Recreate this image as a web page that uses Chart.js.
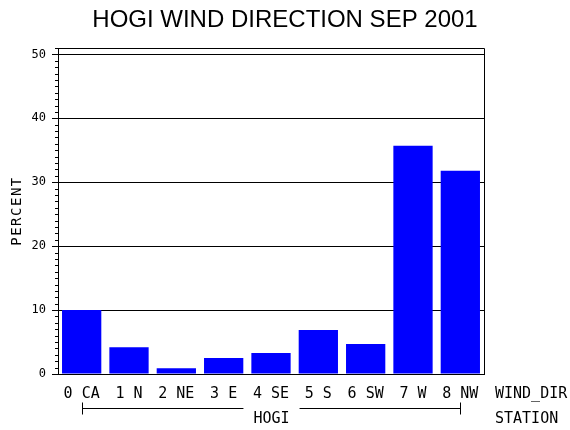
<!DOCTYPE html>
<html>
<head>
<meta charset="utf-8">
<script src="https://cdn.jsdelivr.net/npm/chart.js@4.4.1/dist/chart.umd.min.js"></script>
<style>
  html, body { margin: 0; padding: 0; background: #fff; }
  #wrap { width: 570px; height: 430px; }
</style>
</head>
<body>
<div id="wrap"><canvas id="c" width="570" height="430"></canvas></div>
<script>
// wind direction categories and percent of hours
const windDirs = ['0 CA', '1 N', '2 NE', '3 E', '4 SE', '5 S', '6 SW', '7 W', '8 NW'];
const percents = [10.0, 4.2, 0.9, 2.5, 3.3, 6.9, 4.7, 35.7, 31.8];
const yTicks = [0, 10, 20, 30, 40, 50];
const stationName = 'HOGI';
const titleText = 'HOGI WIND DIRECTION SEP 2001';

const MONO = '"DejaVu Sans Mono", "Liberation Mono", monospace';

// title, frame, minor ticks, group bracket and side labels
const extras = {
  id: 'extras',
  afterDraw(chart) {
    const ctx = chart.ctx;
    const a = chart.chartArea;
    const x = chart.scales.x;
    const y = chart.scales.y;
    ctx.save();
    ctx.strokeStyle = '#000';
    ctx.fillStyle = '#000';
    ctx.lineWidth = 1;

    ctx.font = '24px "Liberation Sans", Arial, sans-serif';
    ctx.textAlign = 'center';
    ctx.textBaseline = 'middle';
    ctx.fillText(titleText, 285, 20);

    // top + right border
    ctx.beginPath();
    ctx.moveTo(Math.round(a.left) + 0.5, Math.round(a.top) + 0.5);
    ctx.lineTo(Math.round(a.right) + 0.5, Math.round(a.top) + 0.5);
    ctx.lineTo(Math.round(a.right) + 0.5, Math.round(a.bottom) + 0.5);
    ctx.stroke();

    // minor ticks every 1 unit
    ctx.beginPath();
    for (let v = 1; v <= y.max; v++) {
      if (v % 10 === 0) continue;
      const py = Math.round(y.getPixelForValue(v)) + 0.5;
      ctx.moveTo(a.left - 3, py);
      ctx.lineTo(a.left, py);
    }
    ctx.stroke();

    ctx.font = '15px ' + MONO;
    ctx.textAlign = 'left';
    ctx.fillText('WIND_DIR', a.right + 11, 394);
    ctx.fillText('STATION', a.right + 11, 419);

    // station bracket under the categories
    const x0 = Math.round(x.getPixelForValue(0)) + 0.5;
    const x1 = Math.round(x.getPixelForValue(windDirs.length - 1)) + 0.5;
    const by = 408.5;
    const mid = (x0 + x1) / 2;
    const half = ctx.measureText(stationName).width / 2 + 10;
    ctx.beginPath();
    ctx.moveTo(x0, by - 6); ctx.lineTo(x0, by + 6);
    ctx.moveTo(x0, by); ctx.lineTo(mid - half, by);
    ctx.moveTo(mid + half, by); ctx.lineTo(x1, by);
    ctx.moveTo(x1, by - 6); ctx.lineTo(x1, by + 6);
    ctx.stroke();
    ctx.textAlign = 'center';
    ctx.fillText(stationName, mid, 419);

    // y axis title
    ctx.translate(17, (a.top + a.bottom) / 2);
    ctx.rotate(-Math.PI / 2);
    ctx.font = '14px ' + MONO;
    ctx.letterSpacing = '1.5px';
    ctx.fillText('PERCENT', 0, 0);
    ctx.restore();
  }
};

new Chart(document.getElementById('c'), {
  type: 'bar',
  data: {
    labels: windDirs,
    datasets: [{
      data: percents,
      backgroundColor: '#0000ff',
      borderWidth: 0,
      barPercentage: 0.83,
      categoryPercentage: 1.0
    }]
  },
  options: {
    responsive: false,
    animation: false,
    layout: { padding: { left: 0, right: 86, top: 48, bottom: 0 } },
    plugins: {
      legend: { display: false },
      tooltip: { enabled: false },
      title: { display: false }
    },
    scales: {
      x: {
        grid: { display: false, drawTicks: false },
        border: { display: true, color: '#000', width: 1 },
        ticks: {
          color: '#000',
          font: { family: MONO, size: 15 },
          padding: 11,
          maxRotation: 0,
          autoSkip: false
        },
        afterFit(s) { s.height = 56; }
      },
      y: {
        min: 0,
        max: 51,
        border: { display: true, color: '#000', width: 1 },
        grid: {
          drawTicks: true,
          tickLength: 6,
          color: c => (yTicks.includes(c.tick.value) && c.tick.value > 0) ? '#000' : 'rgba(0,0,0,0)',
          tickColor: c => yTicks.includes(c.tick.value) ? '#000' : 'rgba(0,0,0,0)',
          lineWidth: 1
        },
        ticks: {
          stepSize: 1,
          autoSkip: false,
          color: '#000',
          padding: 6,
          font: { family: MONO, size: 12 },
          callback: v => yTicks.includes(v) ? String(v) : ''
        },
        afterFit(s) { s.width = 58; }
      }
    }
  },
  plugins: [extras]
});
</script>
</body>
</html>
